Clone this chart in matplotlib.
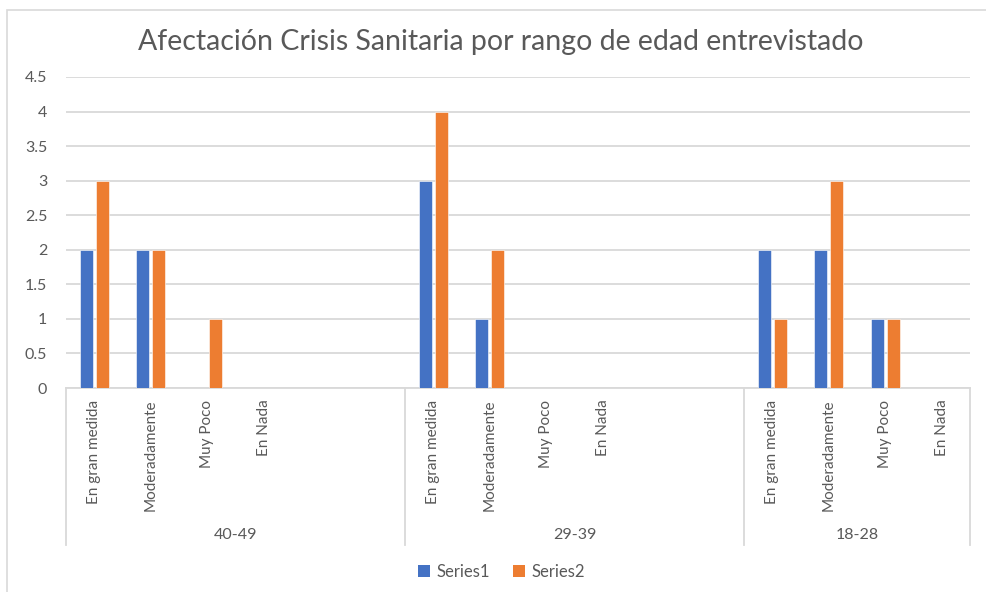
import matplotlib
matplotlib.use("Agg")
import matplotlib.pyplot as plt
import matplotlib.transforms as mtransforms
from matplotlib.patches import Rectangle, Patch
from matplotlib.lines import Line2D
import numpy as np

# datos del grafico
group_labels = ["40-49", "29-39", "18-28"]
group_sizes = [6, 6, 4]
cat_labels = ["En gran medida", "Moderadamente", "Muy Poco", "En Nada", "", "",
              "En gran medida", "Moderadamente", "Muy Poco", "En Nada", "", "",
              "En gran medida", "Moderadamente", "Muy Poco", "En Nada"]
series1 = [2, 2, 0, 0, 0, 0, 3, 1, 0, 0, 0, 0, 2, 2, 1, 0]
series2 = [3, 2, 1, 0, 0, 0, 4, 2, 0, 0, 0, 0, 1, 3, 1, 0]
series_names = ["Series1", "Series2"]
yticks = [0, 0.5, 1, 1.5, 2, 2.5, 3, 3.5, 4, 4.5]

plt.rcParams['font.family'] = ['Lato', 'DejaVu Sans']
text_color = '#595959'
grid_color = '#d9d9d9'
colors = ['#4472C4', '#ED7D31']

W, H = 987, 592
fig = plt.figure(figsize=(W / 100, H / 100), dpi=100, facecolor='white')

# borde exterior del area del grafico
fig.patches.append(Rectangle((7 / W, -0.1), 1.2, (H - 10) / H + 0.1,
                             transform=fig.transFigure, fill=False,
                             edgecolor=grid_color, lw=1.2))

ax = fig.add_axes([66 / W, (H - 388) / H, (970 - 66) / W, (388 - 77) / H])

x = np.arange(len(cat_labels)) + 0.5
bw = 0.23
off = 0.142
for vals, c, off_i in zip([series1, series2], colors, [-off, off]):
    v = np.array(vals, dtype=float)
    ax.bar(x + off_i, v, width=bw, color=c, edgecolor='white', linewidth=0.4, zorder=3)

ax.set_xlim(0, len(cat_labels))
ax.set_ylim(0, 4.5)
ax.set_yticks(yticks)
ax.set_yticklabels([f"{t:g}" for t in yticks])
ax.tick_params(axis='y', length=0, pad=13.5, labelsize=11.5, labelcolor=text_color)
ax.set_xticks([])
ax.grid(axis='y', color=grid_color, lw=1.3, zorder=0)
for s in ['top', 'right', 'left']:
    ax.spines[s].set_visible(False)
ax.spines['bottom'].set_color(grid_color)
ax.spines['bottom'].set_linewidth(1.3)

trans = mtransforms.blended_transform_factory(ax.transData, ax.transAxes)

# etiquetas de categoria (rotadas)
for xi, lab in zip(x, cat_labels):
    if lab:
        ax.text(xi, -0.037, lab, transform=trans, rotation=90, ha='center', va='top',
                fontsize=11, color=text_color)

# separadores y etiquetas de grupo
edges = np.concatenate([[0], np.cumsum(group_sizes)])
for e in edges:
    ax.add_line(Line2D([e, e], [0, -0.505], transform=trans, color=grid_color,
                       lw=1.3, clip_on=False))
for i, g in enumerate(group_labels):
    xc = (edges[i] + edges[i + 1]) / 2
    ax.text(xc, -0.473, g, transform=trans, ha='center', va='center',
            fontsize=11.5, color=text_color)

fig.text(0.507, (H - 42) / H, "Afectación Crisis Sanitaria por rango de edad entrevistado",
         ha='center', va='center', fontsize=20.5, color=text_color)

handles = [Patch(facecolor=c, edgecolor='none') for c in colors]
fig.legend(handles, series_names, loc='center', bbox_to_anchor=(0.508, (H - 572) / H),
           ncol=2, frameon=False, fontsize=12, labelcolor=text_color,
           handlelength=0.7, handleheight=0.7, handletextpad=0.4, columnspacing=1.4)

fig.savefig("out.png", dpi=100, facecolor='white')
